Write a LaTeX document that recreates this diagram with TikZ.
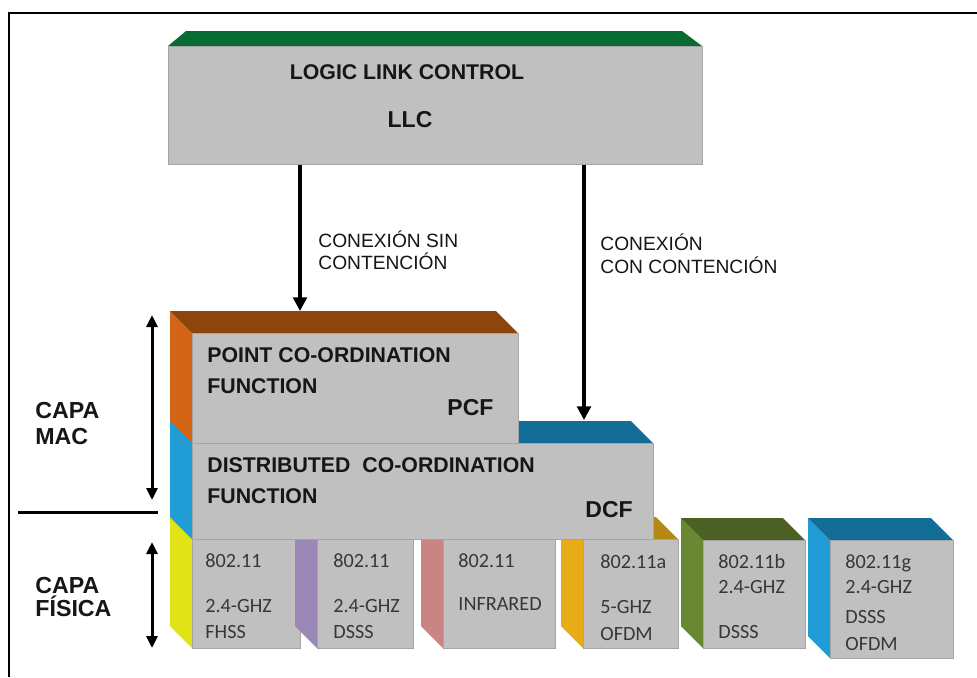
\documentclass[tikz,border=0pt]{standalone}
\usepackage{fontspec}
\setmainfont{Liberation Sans}
\newfontfamily\boxfont{Carlito}
\usetikzlibrary{arrows.meta,fit}

\definecolor{facegray}{RGB}{192,192,192}
\definecolor{edgegray}{RGB}{165,165,165}
\definecolor{ink}{RGB}{22,22,22}
\definecolor{physink}{RGB}{55,55,55}
\definecolor{llctop}{RGB}{8,108,50}
\definecolor{pcftop}{RGB}{140,70,12}
\definecolor{pcfside}{RGB}{210,102,22}
\definecolor{dcftop}{RGB}{18,110,150}
\definecolor{dcfside}{RGB}{32,156,214}
\definecolor{fhssside}{RGB}{226,226,24}
\definecolor{dsssside}{RGB}{156,136,182}
\definecolor{irside}{RGB}{202,132,132}
\definecolor{aside}{RGB}{232,172,22}
\definecolor{atop}{RGB}{178,136,22}
\definecolor{bside}{RGB}{106,136,52}
\definecolor{btop}{RGB}{76,96,36}
\definecolor{gside}{RGB}{32,156,214}
\definecolor{gtop}{RGB}{18,110,150}

% 3-D block: front face (#1,#2)-(#3,#4), side colour #5, top colour #6, node name #7
\newcommand\layerblock[7]{%
  \fill[#5] (#1,#2) -- ++(-22,-22) -- (#1-22,#4-22) -- (#1,#4) -- cycle;
  \fill[#6] (#1,#2) -- ++(-22,-22) -- (#3-22,#2-22) -- (#3,#2) -- cycle;
  \node[face, fit={(#1,#2) (#3,#4)}] (#7) {};
}

\begin{document}
\begin{tikzpicture}[x=0.5pt,y=-0.5pt,
  face/.style={fill=facegray,draw=edgegray,line width=0.5pt,inner sep=0pt},
  title/.style={font=\fontsize{10.65}{12}\selectfont\bfseries,text=ink,inner sep=0pt,anchor=base west},
  abbr/.style={font=\fontsize{11.5}{13}\selectfont\bfseries,text=ink,inner sep=0pt,anchor=base west},
  side label/.style={font=\fontsize{11.6}{13}\selectfont\bfseries,text=ink,inner sep=0pt,anchor=base west},
  phys/.style={font=\boxfont\fontsize{10.1}{12}\selectfont,text=physink,inner sep=0pt,anchor=base west},
  conn/.style={font=\fontsize{9.6}{11}\selectfont,text=ink,inner sep=0pt,anchor=base west},
  arr/.style={line width=2pt,-{Triangle[width=6.8pt,length=6.8pt]}},
  darr/.style={line width=1.5pt,{Triangle[width=5.5pt,length=6pt]}-{Triangle[width=5.5pt,length=6pt]}},
]
\useasboundingbox (0,0) rectangle (977,677);
\fill[white] (0,0) rectangle (977,677);

% outer frame (top and left edges)
\draw[line width=1.1pt] (977,13) -- (9,13) -- (9,677);

% LLC block
\fill[llctop] (168,46) -- (186,31) -- (682,31) -- (702,46) -- cycle;
\node[face, fit={(168,46) (702,164)}] (llc) {};

% physical layer blocks
\layerblock{192}{539}{300}{648}{fhssside}{fhssside}{phy1}
\layerblock{317}{539}{413}{648}{dsssside}{dsssside}{phy2}
\layerblock{443}{539}{555}{648}{irside}{irside}{phy3}
\layerblock{583}{539}{678}{648}{aside}{atop}{phy4}
\layerblock{703}{540}{805}{648}{bside}{btop}{phy5}
\layerblock{830}{540}{953}{658}{gside}{gtop}{phy6}

% MAC sub-layers
\layerblock{192}{443}{653}{539}{dcfside}{dcftop}{dcf}
\layerblock{192}{333}{518}{443}{pcfside}{pcftop}{pcf}

% connectors from LLC
\coordinate (pcfin) at (300,311);
\coordinate (dcfin) at (584,420);
\draw[arr] (llc.south -| pcfin) -- (pcfin);
\draw[arr] (llc.south -| dcfin) -- (dcfin);

% layer extents on the left
\coordinate (macTop) at (152,315);
\coordinate (macBot) at (152,500);
\coordinate (phyTop) at (152,542);
\coordinate (phyBot) at (152,648);
\draw[darr] (macTop) -- (macBot);
\draw[darr] (phyTop) -- (phyBot);
\coordinate (divL) at (18,512);
\coordinate (divR) at (158,512);
\draw[line width=1.5pt] (divL) -- (divR);

% texts
\node[title, anchor=base] (llcname) at (407,79) {LOGIC LINK CONTROL};
\node[abbr, anchor=base] (llcabbr) at (410,127) {LLC};

\node[title] (pcfname1) at (207,362) {POINT CO-ORDINATION};
\node[title] (pcfname2) at (207,393) {FUNCTION};
\node[abbr] (pcfabbr) at (447,415) {PCF};

\node[title] (dcfname1) at (207,472) {DISTRIBUTED\ \ CO-ORDINATION};
\node[title] (dcfname2) at (207,503) {FUNCTION};
\node[abbr] (dcfabbr) at (585,517) {DCF};

\node[conn] (c1a) at (318,247) {CONEXIÓN SIN};
\node[conn] (c1b) at (318,269) {CONTENCIÓN};
\node[conn] (c2a) at (600,250) {CONEXIÓN};
\node[conn] (c2b) at (600,273) {CON CONTENCIÓN};

\node[side label] (mac1) at (35,418) {CAPA};
\node[side label] (mac2) at (35,444) {MAC};
\node[side label] (fis1) at (35,593) {CAPA};
\node[side label] (fis2) at (35,616) {FÍSICA};

\node[phys] (t1a) at (205,567) {802.11};
\node[phys] (t1b) at (205,612) {2.4-GHZ};
\node[phys] (t1c) at (205,638) {FHSS};

\node[phys] (t2a) at (333,567) {802.11};
\node[phys] (t2b) at (333,612) {2.4-GHZ};
\node[phys] (t2c) at (333,638) {DSSS};

\node[phys] (t3a) at (458,567) {802.11};
\node[phys] (t3b) at (458,610) {INFRARED};

\node[phys] (t4a) at (600,568) {802.11a};
\node[phys] (t4b) at (600,613) {5-GHZ};
\node[phys] (t4c) at (600,640) {OFDM};

\node[phys] (t5a) at (718,568) {802.11b};
\node[phys] (t5b) at (718,593) {2.4-GHZ};
\node[phys] (t5c) at (718,638) {DSSS};

\node[phys] (t6a) at (845,568) {802.11g};
\node[phys] (t6b) at (845,593) {2.4-GHZ};
\node[phys] (t6c) at (845,623) {DSSS};
\node[phys] (t6d) at (845,650) {OFDM};
\end{tikzpicture}
\end{document}
